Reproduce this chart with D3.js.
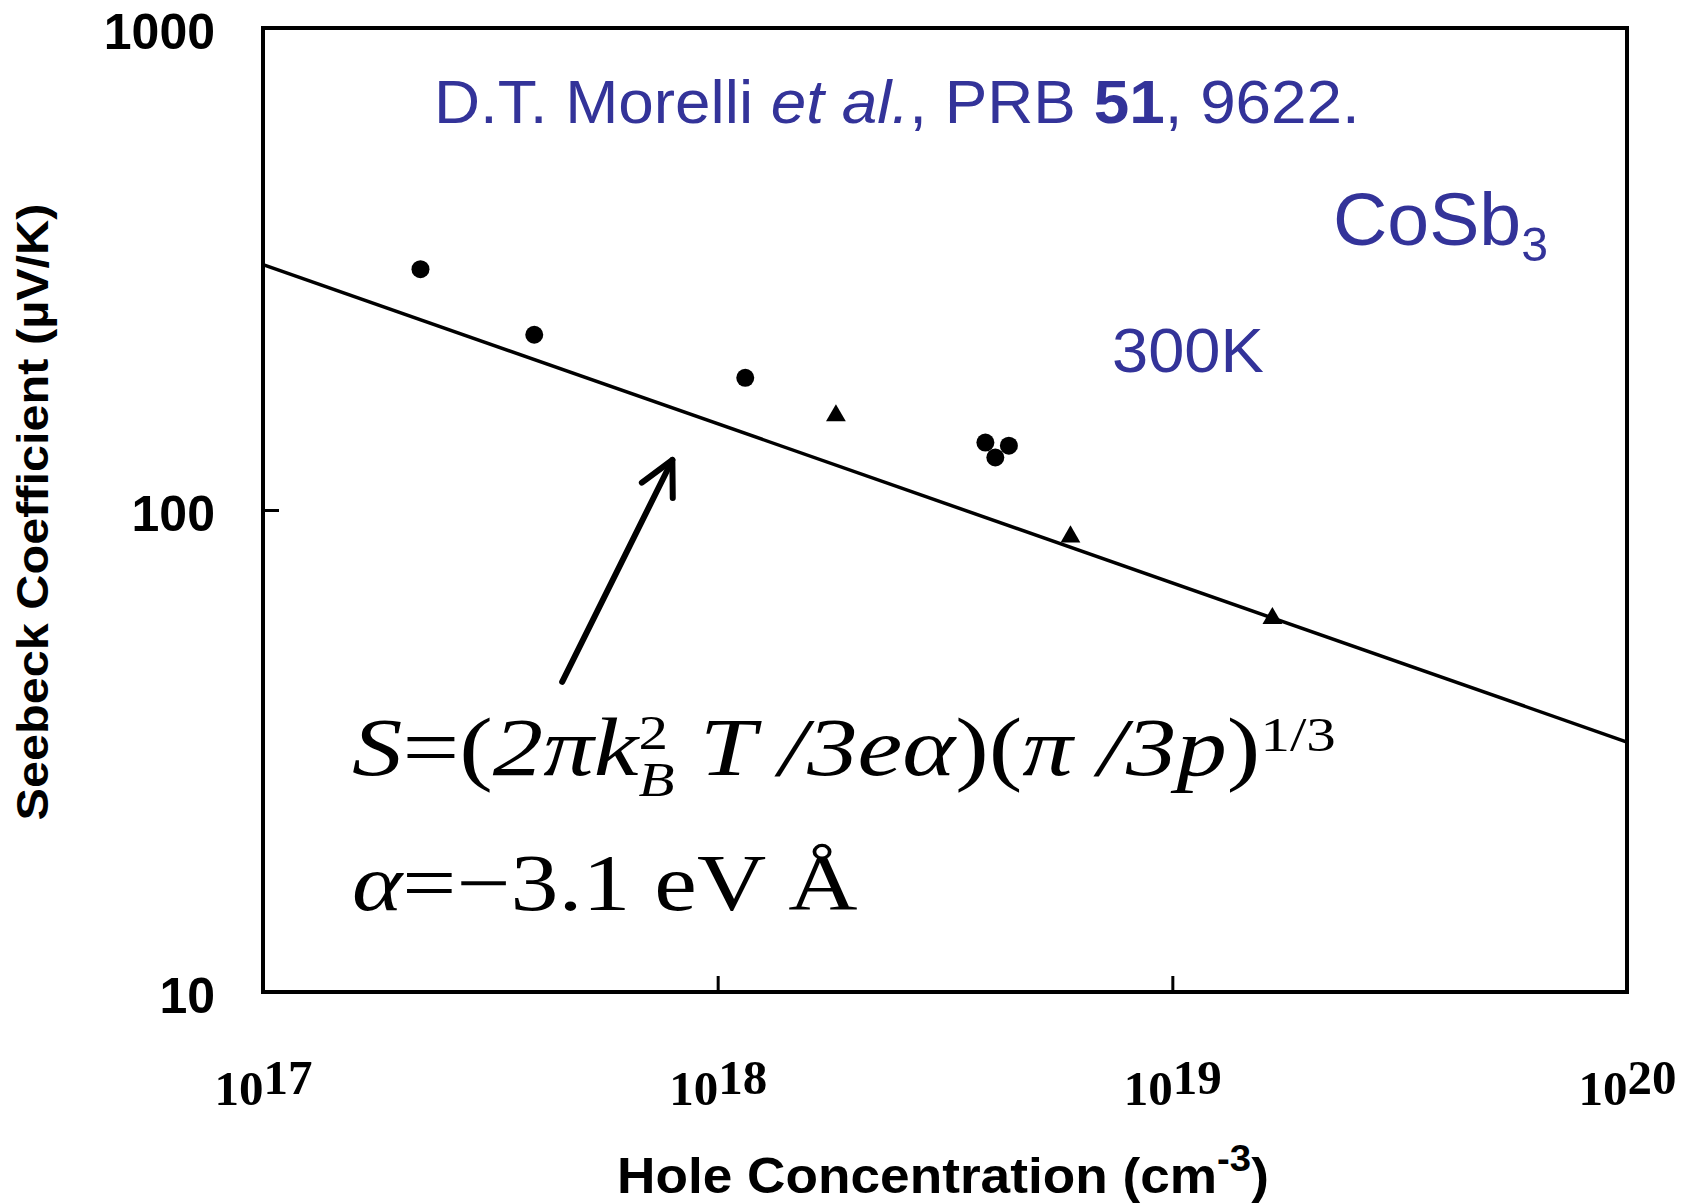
<!DOCTYPE html>
<html>
<head>
<meta charset="utf-8">
<script src="https://cdn.jsdelivr.net/npm/d3@7"></script>
<style>
  html, body { margin: 0; padding: 0; background: #fff; }
  svg { display: block; }
</style>
</head>
<body>
<svg id="chart" width="1682" height="1203"></svg>
<script>
// ---------------- data ----------------
const xTickValues = [1e17, 1e18, 1e19, 1e20];
const xTickExponents = ["17", "18", "19", "20"];
const yTickValues = [10, 100, 1000];
const yTickLabels = ["10", "100", "1000"];

// filled circles (hole concentration cm^-3, Seebeck µV/K)
const circleP = [2.22e17, 3.95e17, 1.15e18, 3.88e18, 4.37e18, 4.08e18];
const circleS = [316, 231, 188, 138, 136, 128.5];
// filled triangles
const triP = [1.82e18, 5.97e18, 1.66e19];
const triS = [157, 88, 59.6];
// theoretical line S ∝ p^(-1/3)
const lineP = [1e17, 1e20];
const lineS = [323, 33];
// annotation arrow (tail, head) in data units
const arrowP = [4.55e17, 7.95e17];
const arrowS = [44, 127];

// ---------------- layout ----------------
const svg = d3.select("#chart");
const L = 263, R = 1627, T = 28, B = 992;
const x = d3.scaleLog().domain([1e17, 1e20]).range([L, R]);
const y = d3.scaleLog().domain([10, 1000]).range([B, T]);
const blue = "#333399";
const sans = "'Liberation Sans', Arial, sans-serif";
const serif = "'Liberation Serif', 'Times New Roman', serif";

function fit(sel, targetW, ax) {
  const w = sel.node().getBBox().width;
  const s = targetW / w;
  sel.attr("transform", `translate(${ax},0) scale(${s},1) translate(${-ax},0)`);
}

// ---------------- axes ----------------
const gx = svg.append("g").attr("transform", `translate(0,${B})`)
  .call(d3.axisBottom(x).tickValues(xTickValues).tickSize(-16).tickFormat(() => ""));
gx.select(".domain").remove();
gx.selectAll(".tick line").attr("stroke", "#000").attr("stroke-width", 3);
gx.selectAll(".tick text").each(function(d, i) {
  const t = d3.select(this);
  t.text(null).attr("y", 113).attr("dy", null)
   .attr("font-family", serif).attr("font-weight", "bold").attr("font-size", 49)
   .attr("fill", "#000").attr("text-anchor", "middle");
  t.append("tspan").text("10");
  t.append("tspan").attr("dy", -11).text(xTickExponents[i]);
});

const gy = svg.append("g").attr("transform", `translate(${L},0)`)
  .call(d3.axisLeft(y).tickValues(yTickValues).tickSize(-16).tickPadding(48)
    .tickFormat((d, i) => yTickLabels[i]));
gy.select(".domain").remove();
gy.selectAll(".tick line").attr("stroke", "#000").attr("stroke-width", 3);
gy.selectAll(".tick text")
  .attr("font-family", sans).attr("font-weight", "bold").attr("font-size", 50)
  .attr("fill", "#000").attr("dy", "0.4em");

// frame
svg.append("rect").attr("x", L).attr("y", T).attr("width", R - L).attr("height", B - T)
  .attr("fill", "none").attr("stroke", "#000").attr("stroke-width", 4);

// ---------------- line ----------------
svg.append("path")
  .datum(lineP.map((p, i) => [p, lineS[i]]))
  .attr("d", d3.line().x(d => x(d[0])).y(d => y(d[1])))
  .attr("fill", "none").attr("stroke", "#000").attr("stroke-width", 3.5);

// ---------------- points ----------------
svg.selectAll("circle.pt").data(circleP.map((p, i) => [p, circleS[i]])).join("circle")
  .attr("class", "pt").attr("cx", d => x(d[0])).attr("cy", d => y(d[1]))
  .attr("r", 9).attr("fill", "#000");

const tri = d3.symbol().type(d3.symbolTriangle).size(170);
svg.selectAll("path.tri").data(triP.map((p, i) => [p, triS[i]])).join("path")
  .attr("class", "tri").attr("d", tri)
  .attr("transform", d => `translate(${x(d[0])},${y(d[1])})`)
  .attr("fill", "#000");

// ---------------- arrow ----------------
{
  const x0 = x(arrowP[0]), y0 = y(arrowS[0]), x1 = x(arrowP[1]), y1 = y(arrowS[1]);
  const ang = Math.atan2(y0 - y1, x0 - x1);
  const a = 27 * Math.PI / 180, len = 38;
  svg.append("line").attr("x1", x0).attr("y1", y0).attr("x2", x1).attr("y2", y1)
    .attr("stroke", "#000").attr("stroke-width", 6).attr("stroke-linecap", "round");
  const pts = [[x1 + len * Math.cos(ang + a), y1 + len * Math.sin(ang + a)], [x1, y1],
               [x1 + len * Math.cos(ang - a), y1 + len * Math.sin(ang - a)]];
  svg.append("path").attr("d", d3.line()(pts)).attr("fill", "none")
    .attr("stroke", "#000").attr("stroke-width", 6)
    .attr("stroke-linecap", "round").attr("stroke-linejoin", "round");
}

// ---------------- texts ----------------
// citation
{
  const t = svg.append("text").attr("x", 434).attr("y", 123)
    .attr("font-family", sans).attr("font-size", 61).attr("fill", blue);
  t.append("tspan").text("D.T. Morelli ");
  t.append("tspan").attr("font-style", "italic").text("et al.");
  t.append("tspan").text(", PRB ");
  t.append("tspan").attr("font-weight", "bold").text("51");
  t.append("tspan").text(", 9622.");
  fit(t, 926, 434);
}
// CoSb3
{
  const t = svg.append("text").attr("x", 1333).attr("y", 245)
    .attr("font-family", sans).attr("font-size", 75).attr("fill", blue);
  t.append("tspan").text("CoSb");
  t.append("tspan").attr("font-size", 48).attr("dy", 16).text("3");
  fit(t, 215, 1333);
}
// 300K
{
  const t = svg.append("text").attr("x", 1112).attr("y", 372)
    .attr("font-family", sans).attr("font-size", 63).attr("fill", blue).text("300K");
  fit(t, 152, 1112);
}
// formula line 1
{
  const t = svg.append("text").attr("x", 352).attr("y", 775)
    .attr("font-family", serif).attr("font-size", 82).attr("fill", "#000")
    .attr("font-style", "italic");
  t.append("tspan").text("S");
  t.append("tspan").attr("font-style", "normal").text("=(");
  t.append("tspan").text("2πk");
  t.append("tspan").attr("font-size", 48).attr("font-style", "normal").attr("dy", -26).text("2");
  t.append("tspan").attr("font-size", 48).attr("dx", -24).attr("dy", 47).text("B");
  t.append("tspan").attr("dy", -21).text(" T /3eα");
  t.append("tspan").attr("font-style", "normal").text(")(");
  t.append("tspan").text("π /3p");
  t.append("tspan").attr("font-style", "normal").text(")");
  t.append("tspan").attr("font-size", 48).attr("font-style", "normal").attr("dy", -24).text("1/3");
  fit(t, 984, 352);
}
// formula line 2
{
  const t = svg.append("text").attr("x", 352).attr("y", 910)
    .attr("font-family", serif).attr("font-size", 80).attr("fill", "#000");
  t.append("tspan").attr("font-style", "italic").text("α");
  t.append("tspan").text("=−3.1 eV Å");
  fit(t, 506, 352);
}
// x axis title
{
  const t = svg.append("text").attr("x", 617).attr("y", 1193)
    .attr("font-family", sans).attr("font-weight", "bold").attr("font-size", 50).attr("fill", "#000");
  t.append("tspan").text("Hole Concentration (cm");
  t.append("tspan").attr("font-size", 36).attr("dy", -22).text("-3");
  t.append("tspan").attr("font-size", 50).attr("dy", 22).text(")");
  fit(t, 652, 617);
}
// y axis title
{
  const g = svg.append("g").attr("transform", "translate(48,512) rotate(-90)");
  const t = g.append("text").attr("x", 0).attr("y", 0).attr("text-anchor", "middle")
    .attr("font-family", sans).attr("font-weight", "bold").attr("font-size", 45)
    .attr("fill", "#000").text("Seebeck Coefficient (µV/K)");
  fit(t, 617, 0);
}
</script>
</body>
</html>
